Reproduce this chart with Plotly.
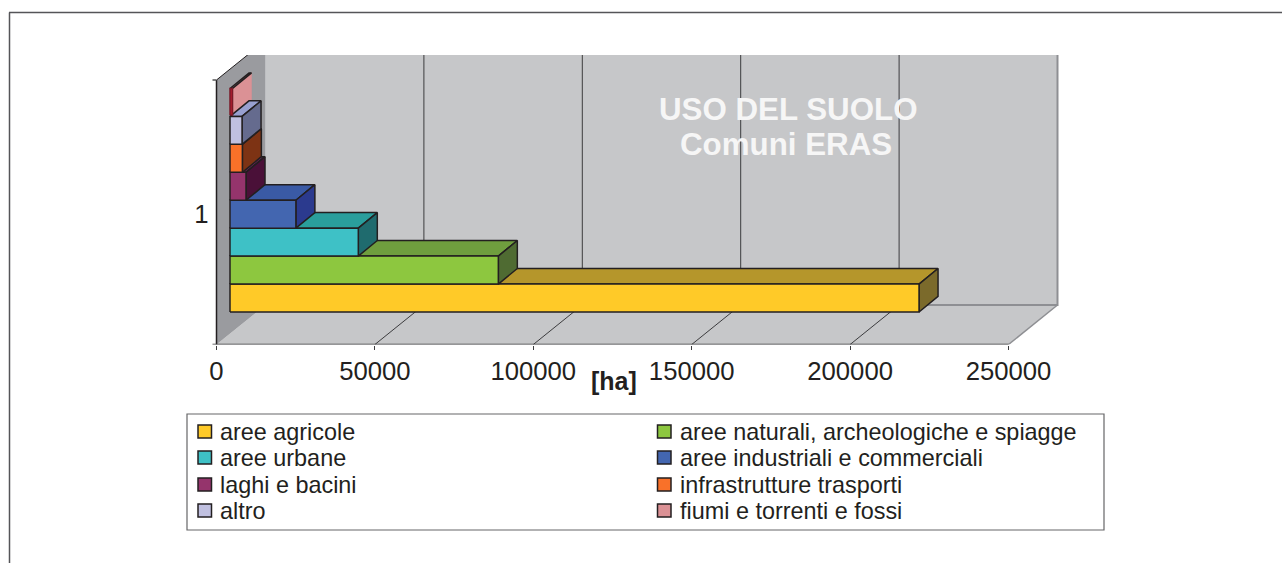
import plotly.graph_objects as go

# ---- data (hectares) ----
categories = ["aree agricole", "aree naturali, archeologiche e spiagge", "aree urbane",
              "aree industriali e commerciali", "laghi e bacini", "infrastrutture trasporti",
              "altro", "fiumi e torrenti e fossi"]
values = [217500, 84700, 40500, 20800, 5050, 3900, 3800, 800]
front_colors = ["#ffca28", "#8dc73f", "#3ec1c6", "#4366b0", "#95346c", "#f97129", "#c0c0e0", "#b01e30"]
top_colors = ["#b5962b", "#6f9e3e", "#2a9e9c", "#3a5aa5", "#6a2456", "#a04a1c", "#98a0d0", "#cf8a90"]
side_colors = ["#7b6a2b", "#4f6b32", "#1f6b6e", "#2b3a8e", "#4a1038", "#7d3314", "#656b8e", "#db9195"]
legend_colors = ["#ffca28", "#8dc73f", "#3ec1c6", "#4366b0", "#95346c", "#f97129", "#c0c0e0", "#db9195"]
x_ticks = [0, 50000, 100000, 150000, 200000, 250000]
category_label = "1"

W, H = 1282, 563
PX0, PX_END = 216.5, 1008.5           # pixel of 0 and of 250000
PY_FLOOR, PY_TOP = 344.5, 55.0
HA_PER_PX = 250000 / (PX_END - PX0)
PX_PER_UNIT = 27.94
DEPTH_X = 49 * HA_PER_PX              # floor depth in axis units
DEPTH_Y = 39.5 / PX_PER_UNIT
WALL_H = (PY_FLOOR - 80) / PX_PER_UNIT
BAR_X0 = 13.5 * HA_PER_PX
BAR_Y0 = (PY_FLOOR - 312) / PX_PER_UNIT
BAR_DX = 19 * HA_PER_PX
BAR_DY = 15.6 / PX_PER_UNIT
XMAX = x_ticks[-1]
INK = "#231f20"
GREY = "#8e8f93"
WALL = "#c6c7c9"
SIDE_WALL = "#9a9b9f"

fig = go.Figure()


def poly(xs, ys, fill, line=INK, width=1.5, name=None):
    fig.add_trace(go.Scatter(
        x=list(xs) + [xs[0]], y=list(ys) + [ys[0]], mode="lines", fill="toself", fillcolor=fill,
        line=dict(color=line, width=width), hoverinfo="skip", showlegend=False, name=name))


def seg(xs, ys, color=INK, width=1):
    fig.add_trace(go.Scatter(x=xs, y=ys, mode="lines", line=dict(color=color, width=width),
                             hoverinfo="skip", showlegend=False))


# walls and floor
poly([DEPTH_X, XMAX + DEPTH_X, XMAX + DEPTH_X, DEPTH_X],
     [DEPTH_Y, DEPTH_Y, WALL_H + DEPTH_Y, WALL_H + DEPTH_Y], WALL, WALL, 0)
poly([0, XMAX, XMAX + DEPTH_X, DEPTH_X], [0, 0, DEPTH_Y, DEPTH_Y], WALL, WALL, 0)
poly([0, DEPTH_X, DEPTH_X, 0], [0, DEPTH_Y, WALL_H + DEPTH_Y, WALL_H], SIDE_WALL, SIDE_WALL, 0)
seg([DEPTH_X, XMAX + DEPTH_X, XMAX + DEPTH_X], [DEPTH_Y, DEPTH_Y, WALL_H + DEPTH_Y], GREY, 2)
seg([XMAX, XMAX + DEPTH_X], [0, DEPTH_Y], GREY, 1.5)
for t in x_ticks[1:-1]:
    seg([t, t + DEPTH_X, t + DEPTH_X], [0, DEPTH_Y, WALL_H + DEPTH_Y], "#3c3c3e", 1)
seg([0, DEPTH_X], [WALL_H, WALL_H + DEPTH_Y], INK, 1)

# axes lines and end ticks of the category axis
seg([0, 0], [0, WALL_H], INK, 1.5)
seg([-4 * HA_PER_PX, XMAX], [0, 0], "#3c3c3e", 1.5)
seg([-4 * HA_PER_PX, 0], [WALL_H, WALL_H], "#555555", 1.5)


def bar_faces(i):
    x1 = BAR_X0 + values[i]
    y0, y1 = BAR_Y0 + i, BAR_Y0 + i + 1
    return x1, y0, y1


# the last bar is a thin sliver: its back faces come first, its front face last
last = len(values) - 1
x1, y0, y1 = bar_faces(last)
poly([BAR_X0, x1, x1 + BAR_DX, BAR_X0 + BAR_DX], [y1, y1, y1 + BAR_DY, y1 + BAR_DY],
     top_colors[last], INK, 1.5, categories[last])
poly([x1, x1 + BAR_DX, x1 + BAR_DX, x1], [y0, y0 + BAR_DY, y1 + BAR_DY, y1],
     side_colors[last], side_colors[last], 0.5, categories[last])
seg([x1, x1 + BAR_DX], [y1, y1 + BAR_DY], INK, 1.5)

# the others from the lowest upwards: each one sits on the top face of the one below
for i in range(last):
    x1, y0, y1 = bar_faces(i)
    poly([BAR_X0, x1, x1 + BAR_DX, BAR_X0 + BAR_DX], [y1, y1, y1 + BAR_DY, y1 + BAR_DY],
         top_colors[i], INK, 1.5, categories[i])
    poly([x1, x1 + BAR_DX, x1 + BAR_DX, x1], [y0, y0 + BAR_DY, y1 + BAR_DY, y1],
         side_colors[i], INK, 1.5, categories[i])
    poly([BAR_X0, x1, x1, BAR_X0], [y0, y0, y1, y1], front_colors[i], INK, 1.5, categories[i])

x1, y0, y1 = bar_faces(last)
poly([BAR_X0, x1, x1, BAR_X0], [y0 + 0.05, y0 + 0.05, y1, y1], front_colors[last], "#7a1a28", 1.5, categories[last])

x_range = [-PX0 * HA_PER_PX, (W - PX0) * HA_PER_PX]
mid_label = (PY_FLOOR - 214) / PX_PER_UNIT
FONT = "Liberation Sans, Arial, sans-serif"

shapes = [
    dict(type="line", xref="paper", yref="paper", x0=9.5 / W, x1=9.5 / W, y0=0, y1=1 - 12.5 / H,
         line=dict(color="#555558", width=1.5)),
    dict(type="line", xref="paper", yref="paper", x0=9 / W, x1=1, y0=1 - 12.5 / H, y1=1 - 12.5 / H,
         line=dict(color="#555558", width=1.5)),
    dict(type="rect", xref="paper", yref="paper", x0=187 / W, x1=1104 / W, y0=1 - 530 / H, y1=1 - 414 / H,
         line=dict(color="#666668", width=1.2), fillcolor="white"),
]
annotations = []


def text(px, py, s, size, color=INK, bold=False, anchor="center"):
    annotations.append(dict(xref="paper", yref="paper", x=px / W, y=1 - py / H, text=f"<b>{s}</b>" if bold else s,
                            showarrow=False, xanchor=anchor, yanchor="middle",
                            font=dict(family=FONT, size=size, color=color)))


text(788.5, 109, "USO DEL SUOLO", 31.3, "#f6f6f6", True)
text(785.5, 144, "Comuni ERAS", 31.3, "#f6f6f6", True)
text(614, 381, "[ha]", 25, INK, True)

row_y = [431.5, 457.5, 484.5, 510.5]
col_x = [198, 657.5]
for i, name in enumerate(categories):
    cx, ry = col_x[i % 2], row_y[i // 2]
    shapes.append(dict(type="rect", xref="paper", yref="paper", x0=cx / W, x1=(cx + 13.5) / W,
                       y0=1 - (ry + 6.5) / H, y1=1 - (ry - 6.5) / H,
                       line=dict(color=INK, width=1.5), fillcolor=legend_colors[i]))
    text(cx + 20, ry, name, 23.4, INK, False, "left")

fig.update_layout(
    width=W, height=H, margin=dict(l=0, r=0, t=0, b=0), autosize=False,
    paper_bgcolor="white", plot_bgcolor="white", showlegend=False,
    shapes=shapes, annotations=annotations,
    font=dict(family=FONT, color=INK),
    xaxis=dict(domain=[0, 1], range=x_range, tickvals=x_ticks, ticktext=[str(t) for t in x_ticks],
               showgrid=False, zeroline=False, showline=False, ticks="outside", ticklen=4, tickwidth=1,
               tickcolor="#3c3c3e", tickfont=dict(size=25.7, color=INK, family=FONT), fixedrange=True),
    yaxis=dict(domain=[1 - PY_FLOOR / H, 1 - PY_TOP / H], range=[0, (PY_FLOOR - PY_TOP) / PX_PER_UNIT],
               anchor="free", position=PX0 / W, tickvals=[mid_label], ticktext=[category_label],
               showgrid=False, zeroline=False, showline=False, ticks="",
               tickfont=dict(size=25.7, color=INK, family=FONT), ticklabelstandoff=8, fixedrange=True),
)

fig.write_html("out.html", config=dict(displayModeBar=False),
               post_script="document.body.style.margin='0';document.body.style.overflow='hidden';")
